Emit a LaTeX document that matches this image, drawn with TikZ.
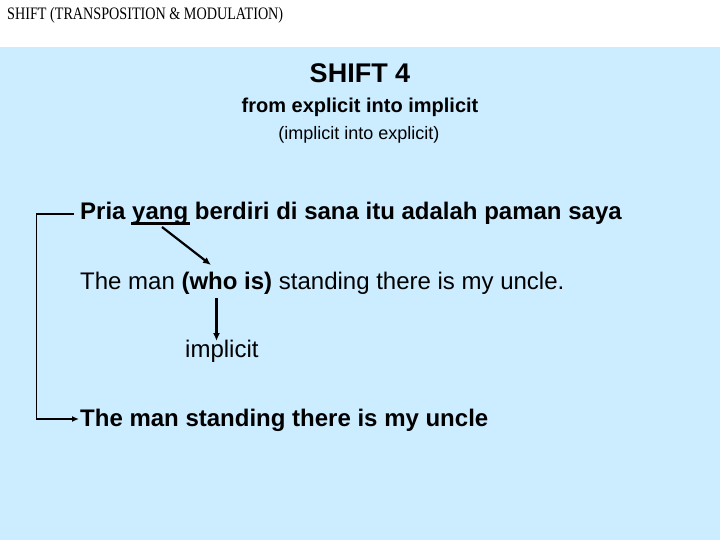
\documentclass[tikz,border=0pt]{standalone}
\usepackage{fontspec}
\setmainfont{Liberation Sans}
\newfontfamily\titlefont{Liberation Serif}
\usetikzlibrary{arrows.meta}
\definecolor{bgblue}{RGB}{204,236,255}
\begin{document}
\begin{tikzpicture}[x=1pt,y=-1pt,
  txt/.style={inner sep=0pt, anchor=base west, font=\fontsize{24}{28}\selectfont},
  ctr/.style={inner sep=0pt, anchor=base},
  conn/.style={line width=2.2pt, -{Latex[length=8pt,width=7pt]}},
  plainline/.style={line width=2.2pt}]
\useasboundingbox (0,0) rectangle (720,540);
\fill[white] (0,0) rectangle (720,47);
\fill[bgblue] (0,47) rectangle (720,540);
\node[inner sep=0pt, anchor=base west, font=\titlefont\fontsize{17.5}{20}\selectfont] (title) at (7,20) {\scalebox{0.81}[1]{SHIFT (TRANSPOSITION \& MODULATION)}};
\node[ctr, font=\bfseries\fontsize{27}{30}\selectfont] (head) at (360,83) {SHIFT 4};
\node[ctr, font=\bfseries\fontsize{20}{24}\selectfont] (sub1) at (360,113) {from explicit into implicit};
\node[ctr, font=\fontsize{18}{22}\selectfont] (sub2) at (359,140) {(implicit into explicit)};
\node[txt, font=\bfseries\fontsize{24}{28}\selectfont] (pria) at (80,220) {Pria yang berdiri di sana itu adalah paman saya};
\node[txt] (who) at (80,289) {The man \textbf{(who is)} standing there is my uncle.};
\node[txt] (impl) at (185,357) {implicit};
\node[txt, font=\bfseries\fontsize{24}{28}\selectfont] (final) at (80,426) {The man standing there is my uncle};
% underline of "yang"
\coordinate (ul1) at (131,223.5);
\coordinate (ul2) at (190,223.5);
\draw[line width=3pt] (ul1) -- (ul2);
% diagonal arrow
\coordinate (d1) at (162,227);
\coordinate (d2) at (211,265);
\draw[conn] (d1) -- (d2);
% vertical arrow
\coordinate (v1) at (216.5,298);
\draw[conn] (v1) -- (216.5,341);
% bracket
\coordinate (b1) at (74,214);
\coordinate (b2) at (36.5,214);
\coordinate (b3) at (36.5,419);
\coordinate (b4) at (79,419);
\draw[line width=1.8pt, -{Latex[length=7pt,width=6pt]}] (b1) -- (b2) -- (b3) -- (b4);
\end{tikzpicture}
\end{document}
